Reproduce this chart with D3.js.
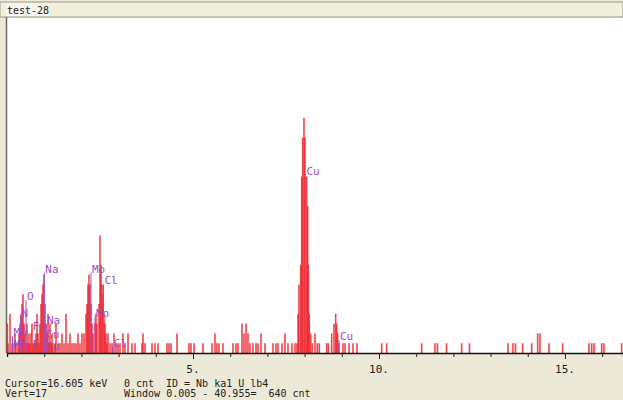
<html>
  <head>
    <style>
      body { margin: 0; background: #ece9d8; }
      svg { display: block; font-family: "DejaVu Sans Mono", monospace; }
    </style>
  </head>
  <body>
    <div id="main"></div>
    <script src="https://d3js.org/d3.v7.min.js"></script>
    <script>
      var width = 623, height = 400;

      // spectrum channels: energy (keV) and counts
      var lowKeV = [0.010, 0.027, 0.081, 0.134, 0.161, 0.215, 0.242, 0.296, 0.323, 0.349, 0.376, 0.403, 0.430, 0.457, 0.484,
                    0.511, 0.538, 0.565, 0.591, 0.618, 0.645, 0.672, 0.699, 0.726, 0.753, 0.780, 0.806, 0.833, 0.860, 0.887,
                    0.914, 0.941, 0.968, 0.995, 1.022, 1.048, 1.075, 1.102, 1.129, 1.156, 1.183, 1.210, 1.237, 1.290, 1.317,
                    1.371, 1.425, 1.478, 1.532, 1.586, 1.640, 1.694, 1.747, 1.801, 1.855, 1.909, 1.962, 2.016, 2.070, 2.124,
                    2.151, 2.177, 2.204, 2.231, 2.258, 2.285, 2.312, 2.366, 2.392, 2.419, 2.473, 2.500, 2.527, 2.554, 2.581,
                    2.608, 2.634, 2.661, 2.688, 2.715, 2.769, 2.823, 2.876, 2.930, 2.984, 3.038, 3.118, 3.172, 3.253, 3.360,
                    3.441, 3.629, 3.656, 3.710, 3.898, 3.978, 4.059];
      var lowCnt = [3, 1, 4, 1, 1, 2, 1, 1, 2, 3, 4, 5, 6, 3, 2,
                    1, 3, 1, 2, 1, 2, 3, 1, 1, 1, 2, 4, 2, 1, 3,
                    5, 6, 7, 8, 5, 3, 2, 4, 1, 3, 1, 2, 1, 1, 3,
                    1, 1, 2, 1, 4, 1, 2, 1, 1, 1, 2, 1, 2, 2, 4,
                    5, 7, 8, 7, 5, 3, 2, 3, 4, 3, 5, 12, 9, 7, 6,
                    4, 3, 2, 1, 2, 1, 1, 2, 1, 1, 1, 2, 1, 2, 1,
                    1, 1, 2, 1, 1, 1, 1];

      var midKeV = [4.301, 4.355, 4.409, 4.570, 4.892, 4.946, 5.027, 5.269, 5.511, 5.591, 5.645, 5.699, 5.806, 6.075, 6.156,
                    6.210, 6.317, 6.371, 6.425, 6.478, 6.532, 6.613, 6.694, 6.747, 6.828, 6.935, 7.151, 7.231, 7.285, 7.392,
                    7.473, 7.661];
      var midCnt = [1, 1, 1, 2, 1, 1, 1, 1, 1, 2, 1, 1, 1, 1, 1,
                    1, 3, 2, 3, 2, 1, 1, 1, 1, 2, 1, 1, 1, 1, 1,
                    2, 1];

      var cuKeV = [7.554, 7.742, 7.796, 7.823, 7.849, 7.895, 7.922, 7.949, 7.984, 8.011, 8.056, 8.083, 8.099, 8.126, 8.164,
                   8.207, 8.280, 8.341, 8.395, 8.594, 8.637, 8.728, 8.790, 8.836, 8.863, 8.890, 8.925, 9.032, 9.086, 9.194,
                   9.301, 9.409];
      var cuCnt = [1, 1, 1, 4, 7, 9, 18, 22, 24, 22, 18, 15, 9, 4, 2,
                   1, 2, 1, 1, 1, 1, 2, 3, 4, 3, 2, 1, 1, 1, 1,
                   1, 1];

      var highKeV = [10.073, 10.207, 11.148, 11.505, 11.573, 11.815, 12.223, 12.433, 13.468, 13.602, 13.669, 13.863,
                     14.105, 14.266, 14.328, 14.570, 14.938, 15.645, 15.718, 15.780, 15.987, 16.048, 16.524];
      var highCnt = [1, 1, 1, 1, 1, 1, 1, 1, 1, 1, 1, 1,
                     1, 2, 2, 1, 1, 1, 1, 1, 1, 1, 1];

      // element markers: name, line energy (keV), label level (counts)
      var markName  = ["Na", "Mo", "Cl", "O", "N", "Mo", "Na", "F", "Mo", "Cu", "Mo", "F", "Cu", "Cl", "Cu", "Cu"];
      var markKeV   = [1.003, 2.258, 2.594, 0.511, 0.363, 2.366, 1.048, 0.659, 0.148, 1.022, 0.148, 0.659, 1.022, 2.836, 8.024, 8.925];
      var markLevel = [8.2, 8.2, 7.0, 5.4, 3.7, 3.7, 3.0, 2.3, 1.7, 1.5, 0.5, 0.5, 0.3, 0.6, 18.2, 1.3];

      var tickKeV = [1, 2, 3, 4, 5, 6, 7, 8, 9, 10, 11, 12, 13, 14, 15, 16];
      var majorKeV = [5, 10, 15];
      var majorText = ["5.", "10.", "15."];

      var title = "test-28";
      var status1 = ["Cursor=16.605 keV", "0 cnt", "ID = Nb ka1 U lb4"];
      var status2 = ["Vert=17", "Window 0.005 - 40.955=  640 cnt"];

      var spectrum = [];
      [[lowKeV, lowCnt], [midKeV, midCnt], [cuKeV, cuCnt], [highKeV, highCnt]].forEach(function(p) {
          p[0].forEach(function(e, i) { spectrum.push({ keV: e, cnt: p[1][i] }); });
      });
      var marks = markName.map(function(n, i) { return { name: n, keV: markKeV[i], level: markLevel[i] }; });

      var plot = { left: 7, right: 623, top: 18, bottom: 353 };
      var x = d3.scaleLinear().domain([0, 16.56]).range([plot.left, plot.right]);
      var y = d3.scaleLinear().domain([0, 34.2]).range([plot.bottom, plot.top]);

      var svg = d3.select("#main").append("svg")
          .attr("width", width).attr("height", height);

      svg.append("rect").attr("width", width).attr("height", height).attr("fill", "#ece9d8");

      // title bar
      svg.append("rect").attr("x", 0).attr("y", 2).attr("width", width).attr("height", 15)
          .attr("fill", "#f1eedc").attr("stroke", "#9c9a90").attr("stroke-width", 1);
      svg.append("rect").attr("x", 6).attr("y", 3).attr("width", 43).attr("height", 13)
          .attr("fill", "#f7f6ee");
      svg.append("text").attr("x", 7).attr("y", 14).attr("font-size", 10).attr("fill", "#222")
          .text(title);

      // plot area
      svg.append("rect").attr("x", plot.left).attr("y", plot.top)
          .attr("width", plot.right - plot.left).attr("height", plot.bottom - plot.top)
          .attr("fill", "#ffffff");
      svg.append("line").attr("x1", 6.5).attr("x2", 6.5).attr("y1", 17).attr("y2", plot.bottom)
          .attr("stroke", "#6a6a6a").attr("stroke-width", 1.5);

      svg.append("g").selectAll("rect").data(spectrum).enter().append("rect")
          .attr("x", function(d) { return x(d.keV) - 0.8; })
          .attr("y", function(d) { return y(d.cnt); })
          .attr("width", 1.6)
          .attr("height", function(d) { return y(0) - y(d.cnt); })
          .attr("fill", "#ee1c25")
          .attr("fill-opacity", 0.82);

      var mg = svg.append("g");
      mg.selectAll("line").data(marks).enter().append("line")
          .attr("x1", function(d) { return x(d.keV); })
          .attr("x2", function(d) { return x(d.keV); })
          .attr("y1", function(d) { return y(d.level); })
          .attr("y2", y(0))
          .attr("stroke", "#a050c8").attr("stroke-width", 1);
      mg.selectAll("text").data(marks).enter().append("text")
          .attr("x", function(d) { return x(d.keV) + 1; })
          .attr("y", function(d) { return y(d.level); })
          .attr("font-size", 11)
          .attr("fill", "#9a4cc4")
          .text(function(d) { return d.name; });

      // axis
      var axis = svg.append("g").attr("transform", "translate(0," + plot.bottom + ")")
          .call(d3.axisBottom(x).tickValues(tickKeV).tickSize(4).tickFormat(""));
      axis.select(".domain").attr("stroke", "#111").attr("stroke-width", 1.3);
      axis.selectAll(".tick line").attr("stroke", "#222")
          .attr("y2", function(d) { return majorKeV.indexOf(d) >= 0 ? 6 : 4; });
      axis.selectAll(".axis-label").data(majorKeV).enter().append("text")
          .attr("x", function(d) { return x(d); })
          .attr("y", 20)
          .attr("text-anchor", "middle")
          .attr("font-size", 11)
          .attr("fill", "#222")
          .attr("font-family", "DejaVu Sans Mono, monospace")
          .text(function(d, i) { return majorText[i]; });

      // status lines
      var s1x = [5, 124, 166];
      var s2x = [5, 124];
      svg.append("g").selectAll("text").data(status1).enter().append("text")
          .attr("x", function(d, i) { return s1x[i]; }).attr("y", 387)
          .attr("font-size", 10).attr("fill", "#222")
          .style("white-space", "pre")
          .text(function(d) { return d; });
      svg.append("g").selectAll("text").data(status2).enter().append("text")
          .attr("x", function(d, i) { return s2x[i]; }).attr("y", 397)
          .attr("font-size", 10).attr("fill", "#222")
          .style("white-space", "pre")
          .text(function(d) { return d; });
    </script>
  </body>
</html>
